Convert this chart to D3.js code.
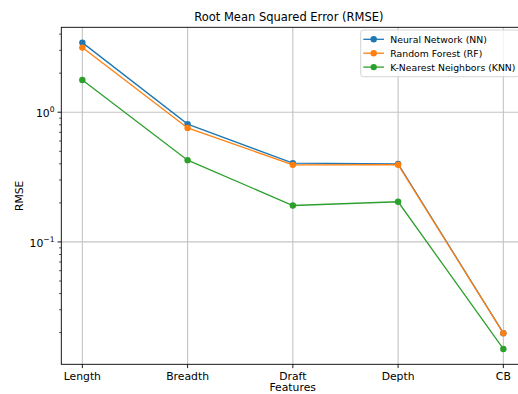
<!DOCTYPE html>
<html>
<head>
<meta charset="utf-8">
<script src="https://cdn.jsdelivr.net/npm/d3@7"></script>
<style>
  body { margin: 0; background: #fff; }
  svg { display: block; font-family: "DejaVu Sans", sans-serif; }
</style>
</head>
<body>
<svg id="chart" width="518" height="394"></svg>
<script>
// chart data
const features = ["Length", "Breadth", "Draft", "Depth", "CB"];
const nnValues = [3.44, 0.81, 0.405, 0.40, 0.0198];
const rfValues = [3.15, 0.757, 0.393, 0.394, 0.0198];
const knnValues = [1.77, 0.427, 0.191, 0.204, 0.01495];
const seriesNames = ["Neural Network (NN)", "Random Forest (RF)", "K-Nearest Neighbors (KNN)"];
const seriesColors = ["#1f77b4", "#ff7f0e", "#2ca02c"];
const yMajorTicks = [0.1, 1];

const series = [nnValues, rfValues, knnValues].map((v, i) => ({
    name: seriesNames[i], color: seriesColors[i], values: v
}));

const svg = d3.select("#chart");
const axLeft = 61.3, axRight = 524.4, axTop = 27.3, axBottom = 364.3;

// matplotlib style 5% margins
const x = d3.scaleLinear()
    .domain([-0.2, features.length - 1 + 0.2])
    .range([axLeft, axRight]);

const all = [].concat(nnValues, rfValues, knnValues);
const lo = Math.log10(d3.min(all)), hi = Math.log10(d3.max(all));
const pad = (hi - lo) * 0.05;
const y = d3.scaleLog()
    .domain([Math.pow(10, lo - pad), Math.pow(10, hi + pad)])
    .range([axBottom, axTop]);

// grid
const grid = svg.append("g")
    .attr("stroke", "#c4c4c4")
    .attr("stroke-width", 1.1);
grid.selectAll(".gx")
    .data(features).enter().append("line")
    .attr("x1", (d, i) => x(i)).attr("x2", (d, i) => x(i))
    .attr("y1", axTop).attr("y2", axBottom);
grid.selectAll(".gy")
    .data(yMajorTicks).enter().append("line")
    .attr("x1", axLeft).attr("x2", axRight)
    .attr("y1", d => y(d)).attr("y2", d => y(d));

// lines and markers
const line = d3.line()
    .x((d, i) => x(i))
    .y(d => y(d));

series.forEach(s => {
    svg.append("path")
        .attr("d", line(s.values))
        .attr("fill", "none")
        .attr("stroke", s.color)
        .attr("stroke-width", 1.3);
    svg.append("g").selectAll("circle")
        .data(s.values).enter().append("circle")
        .attr("cx", (d, i) => x(i))
        .attr("cy", d => y(d))
        .attr("r", 3.2)
        .attr("fill", s.color);
});

// spines
svg.append("rect")
    .attr("x", axLeft).attr("y", axTop)
    .attr("width", axRight - axLeft).attr("height", axBottom - axTop)
    .attr("fill", "none")
    .attr("stroke", "#000")
    .attr("stroke-width", 0.9);

// x ticks
const xt = svg.append("g");
features.forEach((f, i) => {
    xt.append("line")
        .attr("x1", x(i)).attr("x2", x(i))
        .attr("y1", axBottom).attr("y2", axBottom + 3.8)
        .attr("stroke", "#000").attr("stroke-width", 0.9);
    xt.append("text")
        .attr("x", x(i)).attr("y", 379.8)
        .attr("text-anchor", "middle")
        .attr("font-size", 10.8)
        .text(f);
});

// y ticks (log: major + minor)
const [d0, d1] = y.domain();
const minor = [];
for (let e = Math.floor(Math.log10(d0)); e <= Math.ceil(Math.log10(d1)); e++) {
    for (let m = 2; m <= 9; m++) {
        const v = m * Math.pow(10, e);
        if (v >= d0 && v <= d1) minor.push(v);
    }
}
const yt = svg.append("g");
yt.selectAll(".minor")
    .data(minor).enter().append("line")
    .attr("x1", axLeft - 2.2).attr("x2", axLeft)
    .attr("y1", d => y(d)).attr("y2", d => y(d))
    .attr("stroke", "#000").attr("stroke-width", 0.7);
yMajorTicks.forEach(v => {
    yt.append("line")
        .attr("x1", axLeft - 3.8).attr("x2", axLeft)
        .attr("y1", y(v)).attr("y2", y(v))
        .attr("stroke", "#000").attr("stroke-width", 0.9);
    const e = Math.round(Math.log10(v));
    const t = yt.append("text")
        .attr("x", 54.5).attr("y", y(v) + 4.6)
        .attr("text-anchor", "end")
        .attr("font-size", 10.8);
    t.append("tspan").text("10");
    t.append("tspan")
        .attr("dy", -5)
        .attr("font-size", 7.6)
        .text(e < 0 ? "\u2212" + (-e) : String(e));
});

// labels
svg.append("text")
    .attr("x", (axLeft + axRight) / 2 - 4).attr("y", 20.8)
    .attr("text-anchor", "middle")
    .attr("font-size", 11.5)
    .text("Root Mean Squared Error (RMSE)");

svg.append("text")
    .attr("x", 292.7).attr("y", 391.3)
    .attr("text-anchor", "middle")
    .attr("font-size", 10.8)
    .text("Features");

svg.append("text")
    .attr("transform", `translate(23.3,${(axTop + axBottom) / 2}) rotate(-90)`)
    .attr("text-anchor", "middle")
    .attr("font-size", 10.8)
    .text("RMSE");

// legend
const lg = svg.append("g").attr("transform", "translate(360.7,30)");
lg.append("rect")
    .attr("width", 158.5).attr("height", 46.7)
    .attr("rx", 2.5)
    .attr("fill", "#fff").attr("fill-opacity", 0.8)
    .attr("stroke", "#d0d0d0").attr("stroke-width", 0.9);
series.forEach((s, i) => {
    const ly = 9.3 + i * 13.9;
    lg.append("line")
        .attr("x1", 2.6).attr("x2", 23.3)
        .attr("y1", ly).attr("y2", ly)
        .attr("stroke", s.color).attr("stroke-width", 1.3);
    lg.append("circle")
        .attr("cx", 13).attr("cy", ly).attr("r", 3.2)
        .attr("fill", s.color);
    lg.append("text")
        .attr("x", 29.6).attr("y", ly + 3.4)
        .attr("font-size", 9.3)
        .text(s.name);
});
</script>
</body>
</html>
